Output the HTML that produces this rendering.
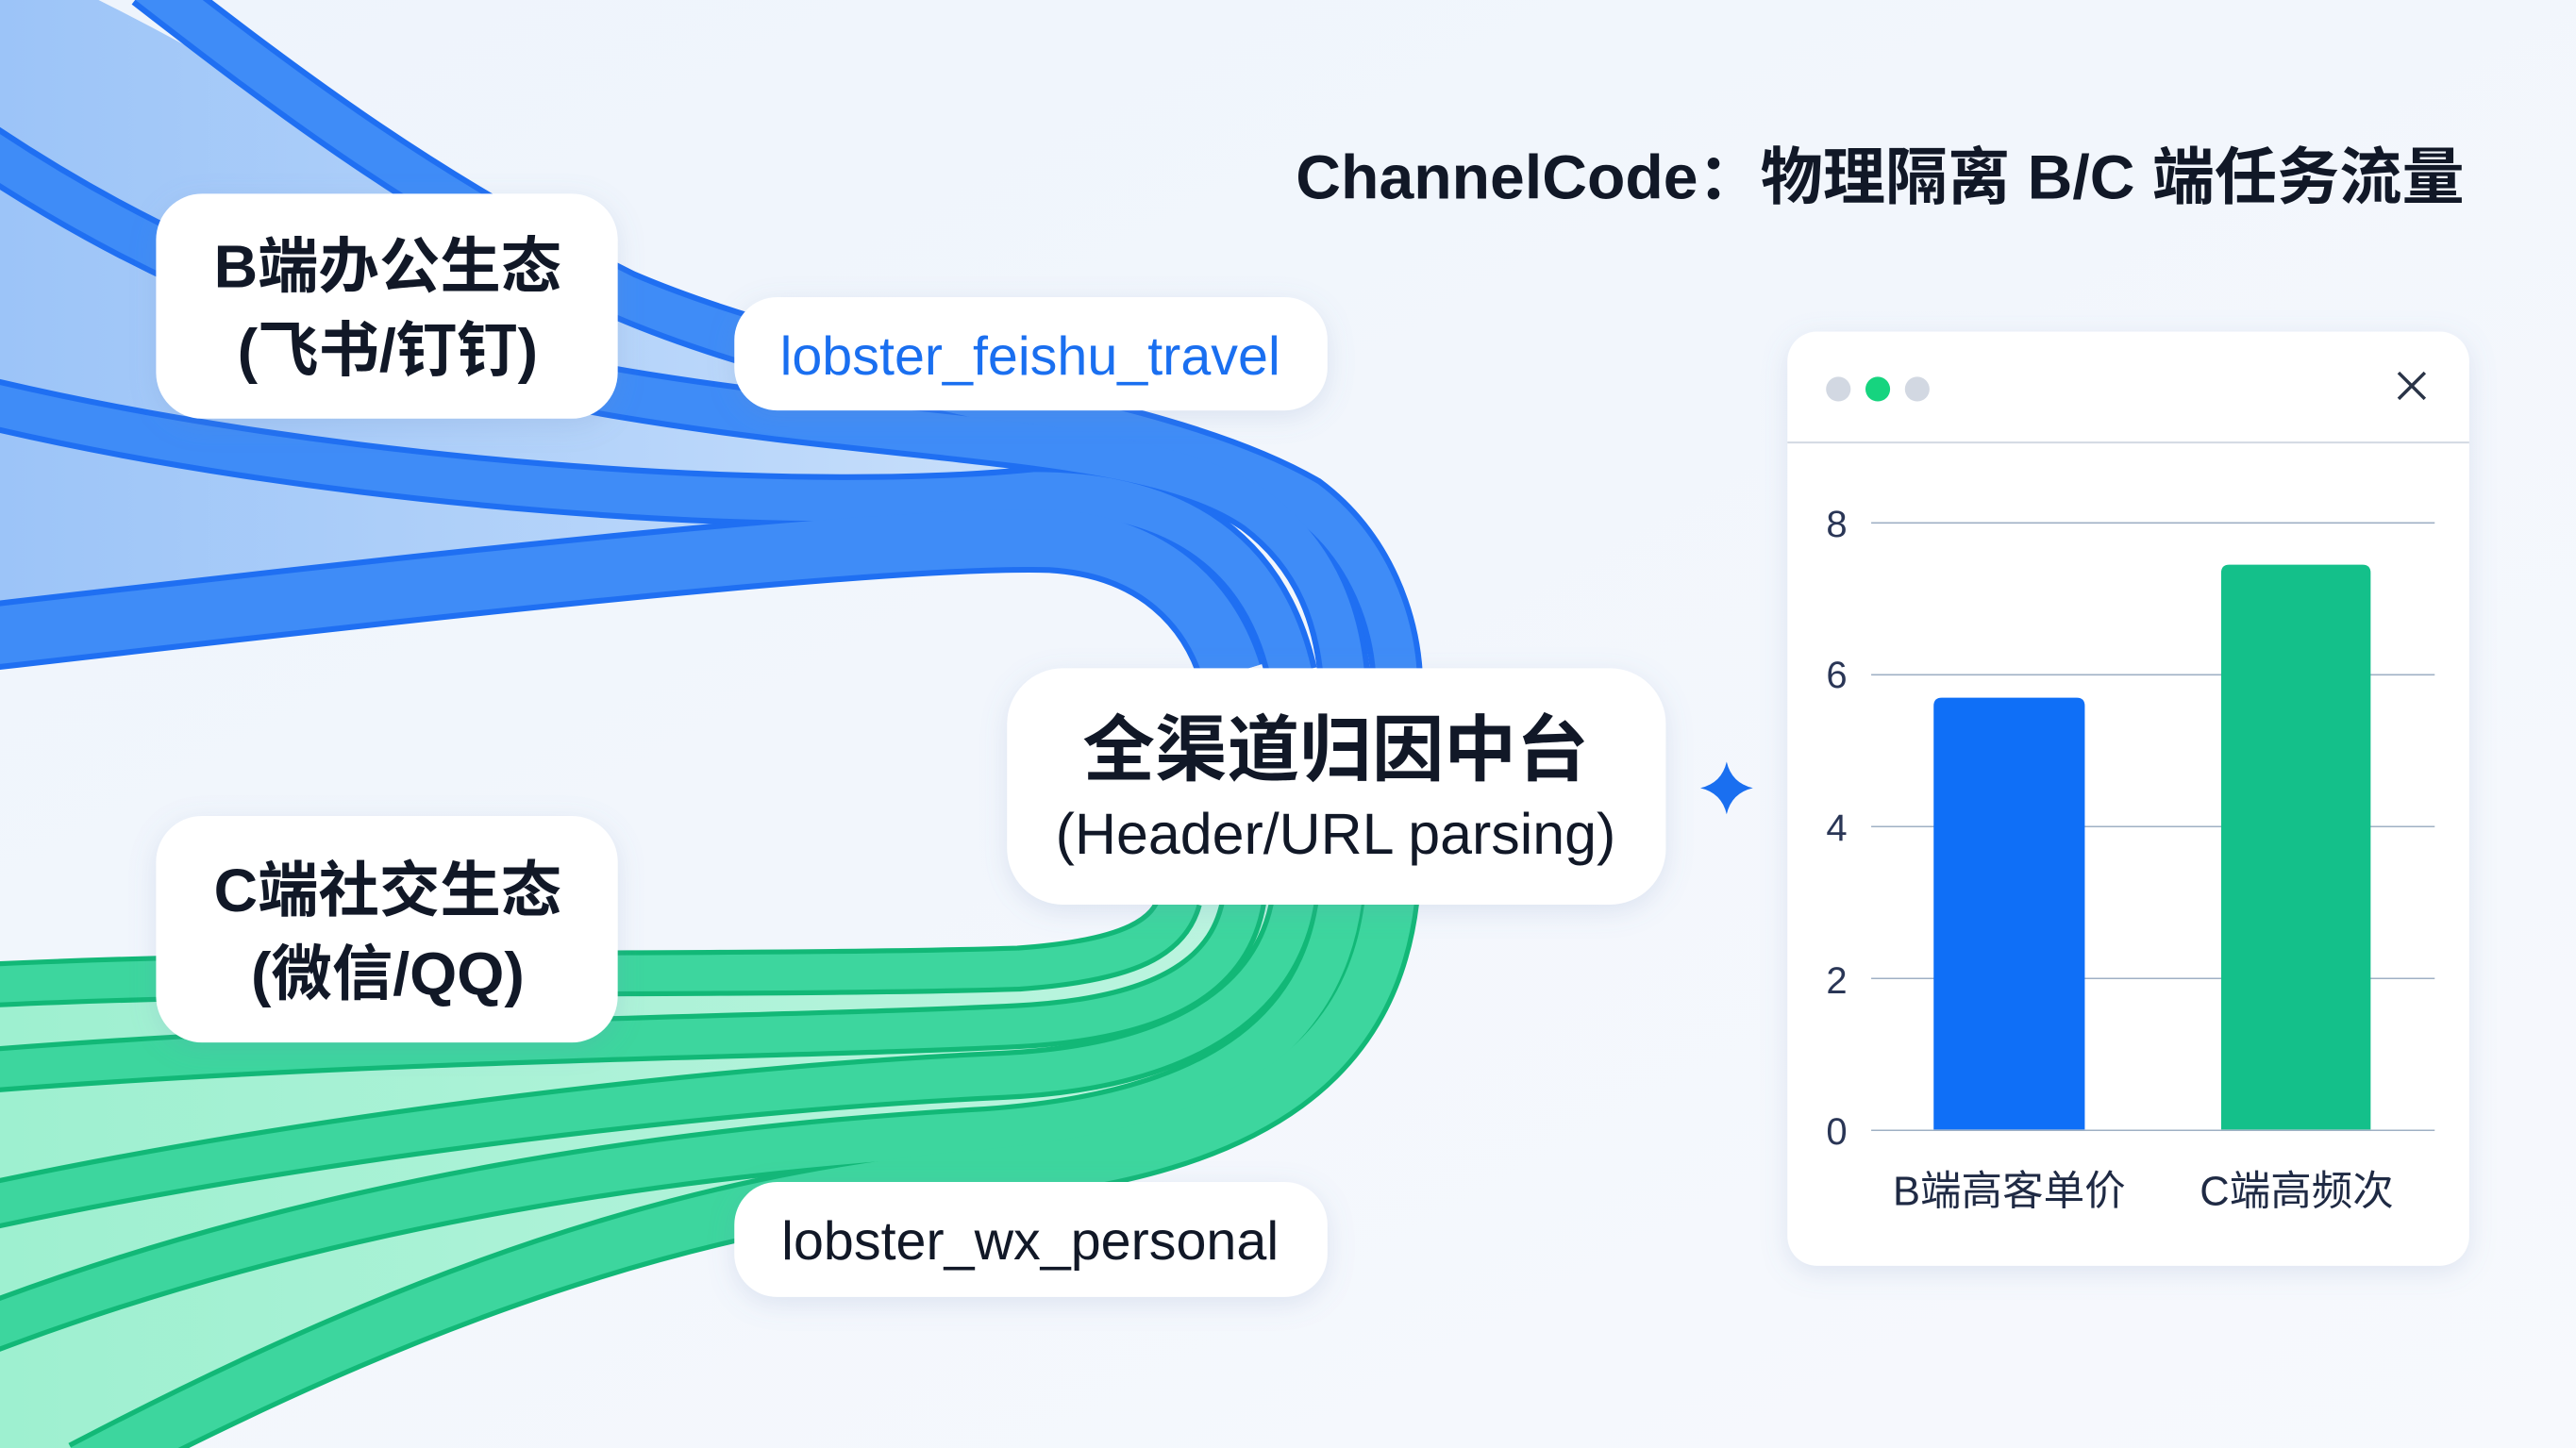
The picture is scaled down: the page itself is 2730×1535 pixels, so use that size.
<!DOCTYPE html>
<html><head><meta charset="utf-8"><style>
html,body{margin:0;padding:0;background:#f5f8fc;}
svg{display:block}
</style></head><body>
<svg width="2730" height="1535" viewBox="0 0 1568 882" preserveAspectRatio="none" xmlns="http://www.w3.org/2000/svg">
<defs>
<linearGradient id="bg" x1="0" y1="0" x2="1" y2="1">
<stop offset="0" stop-color="#eef4fc"/><stop offset="1" stop-color="#f7f9fd"/>
</linearGradient>
<linearGradient id="lb" x1="0" y1="0" x2="1" y2="0">
<stop offset="0" stop-color="#9cc4f8"/><stop offset="0.6" stop-color="#bcd8fa"/><stop offset="1" stop-color="#d6e7fc"/>
</linearGradient>
<linearGradient id="lg" x1="0" y1="0" x2="1" y2="0">
<stop offset="0" stop-color="#9ef0d0"/><stop offset="1" stop-color="#bff5e1"/>
</linearGradient>
<filter id="sh" x="-20%" y="-20%" width="140%" height="150%">
<feDropShadow dx="0" dy="4" stdDeviation="8" flood-color="#6a86b8" flood-opacity="0.18"/>
</filter>
</defs>
<rect width="1568" height="882" fill="url(#bg)"/>

<path d="M60,0 C180,60 260,120 380,180 C520,240 700,250 790,310 L700,340 C550,320 250,345 0,380 L0,0 Z" fill="url(#lb)"/>
<path d="M0,600 C200,590 450,595 620,590 C690,585 710,570 715,548 L845,548 C835,640 770,700 600,715 C420,730 250,790 50,882 L0,882 Z" fill="url(#lg)"/>

<g fill="none" stroke-linecap="butt">
<g stroke="#1f6ff2">
<path d="M90,-10 C180,60 260,120 380,180 C520,240 700,250 795,305 C835,335 848,380 850,410" stroke-width="32"/>
<path d="M-10,90 C80,150 200,210 380,240 C560,270 700,265 765,310 C805,340 815,380 818,410" stroke-width="32"/>
<path d="M-10,245 C200,295 480,315 630,300 C720,300 770,340 786,410" stroke-width="32"/>
<path d="M-10,388 C250,358 540,325 640,328 C705,332 738,370 750,410" stroke-width="42"/>
</g>
<g stroke="#3f8cf7">
<path d="M90,-10 C180,60 260,120 380,180 C520,240 700,250 795,305 C835,335 848,380 850,410" stroke-width="25"/>
<path d="M-10,90 C80,150 200,210 380,240 C560,270 700,265 765,310 C805,340 815,380 818,410" stroke-width="25"/>
<path d="M-10,245 C200,295 480,315 630,300 C720,300 770,340 786,410" stroke-width="25"/>
<path d="M-10,388 C250,358 540,325 640,328 C705,332 738,370 750,410" stroke-width="35"/>
</g>
<g stroke="#12b877">
<path d="M-10,600 C200,590 450,595 620,590 C690,585 712,570 718,548" stroke-width="28"/>
<path d="M-10,652 C250,632 480,632 620,625 C715,620 750,590 757,548" stroke-width="28"/>
<path d="M-10,735 C200,690 450,662 610,655 C720,650 778,610 788,548" stroke-width="30"/>
<path d="M-10,810 C200,730 420,700 600,690 C740,680 805,630 816,548" stroke-width="32"/>
<path d="M50,895 C250,790 420,730 600,715 C770,700 835,640 846,548" stroke-width="36"/>
</g>
<g stroke="#3dd69e">
<path d="M-10,600 C200,590 450,595 620,590 C690,585 712,570 718,548" stroke-width="22"/>
<path d="M-10,652 C250,632 480,632 620,625 C715,620 750,590 757,548" stroke-width="22"/>
<path d="M-10,735 C200,690 450,662 610,655 C720,650 778,610 788,548" stroke-width="24"/>
<path d="M-10,810 C200,730 420,700 600,690 C740,680 805,630 816,548" stroke-width="26"/>
<path d="M50,895 C250,790 420,730 600,715 C770,700 835,640 846,548" stroke-width="30"/>
</g>
</g>

<text x="1500" y="121" text-anchor="end" font-family="Liberation Sans, Noto Sans CJK SC, sans-serif" font-weight="bold" font-size="38" fill="#111827">ChannelCode：物理隔离 B/C 端任务流量</text>

<g font-family="Liberation Sans, Noto Sans CJK SC, sans-serif">
<rect x="95" y="118" width="281" height="137" rx="28" fill="#fff" filter="url(#sh)"/>
<text x="236" y="175" text-anchor="middle" font-size="37" font-weight="bold" fill="#111827">B端办公生态</text>
<text x="236" y="226" text-anchor="middle" font-size="37" font-weight="bold" fill="#111827">(飞书/钉钉)</text>

<rect x="447" y="181" width="361" height="69" rx="26" fill="#fff" filter="url(#sh)"/>
<text x="627" y="228" text-anchor="middle" font-size="33" fill="#1a6ff0">lobster_feishu_travel</text>

<rect x="613" y="407" width="401" height="144" rx="34" fill="#fff" filter="url(#sh)"/>
<text x="813" y="472" text-anchor="middle" font-size="44" font-weight="bold" fill="#111827">全渠道归因中台</text>
<text x="813" y="520" text-anchor="middle" font-size="35" fill="#111827">(Header/URL parsing)</text>

<rect x="95" y="497" width="281" height="138" rx="28" fill="#fff" filter="url(#sh)"/>
<text x="236" y="555" text-anchor="middle" font-size="37" font-weight="bold" fill="#111827">C端社交生态</text>
<text x="236" y="606" text-anchor="middle" font-size="37" font-weight="bold" fill="#111827">(微信/QQ)</text>

<rect x="447" y="720" width="361" height="70" rx="26" fill="#fff" filter="url(#sh)"/>
<text x="627" y="767" text-anchor="middle" font-size="33" fill="#111827">lobster_wx_personal</text>
</g>

<path d="M1051,464 Q1054,477 1067,480 Q1054,483 1051,496 Q1048,483 1035,480 Q1048,477 1051,464 Z" fill="#1a6ff0"/>

<rect x="1088" y="202" width="415" height="569" rx="18" fill="#fff" filter="url(#sh)"/>
<line x1="1088" y1="269.5" x2="1503" y2="269.5" stroke="#d5dbe4" stroke-width="1.2"/>
<circle cx="1119" cy="237" r="7.5" fill="#d2d8e2"/>
<circle cx="1143" cy="237" r="7.5" fill="#16d47f"/>
<circle cx="1167" cy="237" r="7.5" fill="#d2d8e2"/>
<path d="M1460,227 L1476,243 M1476,227 L1460,243" stroke="#2a3447" stroke-width="2"/>
<g stroke="#9fb0c4" stroke-width="0.9">
<line x1="1139" y1="318.5" x2="1482" y2="318.5"/>
<line x1="1139" y1="411" x2="1482" y2="411"/>
<line x1="1139" y1="503.5" x2="1482" y2="503.5"/>
<line x1="1139" y1="596" x2="1482" y2="596"/>
<line x1="1139" y1="688.5" x2="1482" y2="688.5"/>
</g>
<g font-family="Liberation Sans, sans-serif" font-size="23" fill="#2a3656" text-anchor="middle">
<text x="1118" y="327">8</text>
<text x="1118" y="419">6</text>
<text x="1118" y="512">4</text>
<text x="1118" y="605">2</text>
<text x="1118" y="697">0</text>
</g>
<path d="M1177,688 L1177,430 Q1177,425 1182,425 L1264,425 Q1269,425 1269,430 L1269,688 Z" fill="#0f6ff7"/>
<path d="M1352,688 L1352,349 Q1352,344 1357,344 L1438,344 Q1443,344 1443,349 L1443,688 Z" fill="#14c08a"/>
<g font-family="Liberation Sans, Noto Sans CJK SC, sans-serif" font-size="25" fill="#1f2a44" text-anchor="middle">
<text x="1223" y="734">B端高客单价</text>
<text x="1398" y="734">C端高频次</text>
</g>
</svg>
</body></html>
